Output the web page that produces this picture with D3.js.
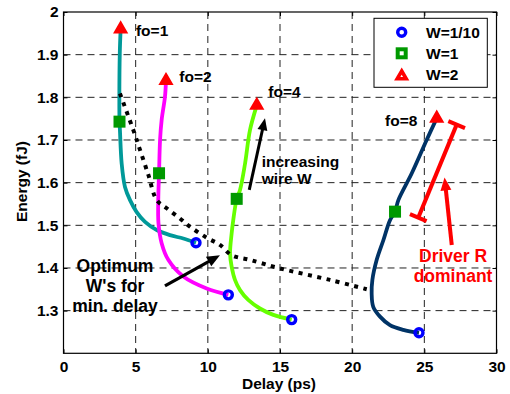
<!DOCTYPE html>
<html>
<head>
<meta charset="utf-8">
<script src="https://cdn.jsdelivr.net/npm/d3@7/dist/d3.min.js"></script>
<style>
  html, body { margin: 0; padding: 0; background: #fff; }
  svg { display: block; font-family: "Liberation Sans", Arial, Helvetica, sans-serif; font-weight: bold; }
</style>
</head>
<body>
<svg id="chart" width="510" height="394"></svg>
<script>
// Energy vs. delay of a driven wire for several fanouts, sweeping wire width W.

// fo = 1
const fo1Delay  = [3.96, 3.90, 3.87, 3.88, 3.91, 4.03, 4.26, 4.61, 5.07, 5.65, 6.46, 7.38, 8.30, 9.18];
const fo1Energy = [1.960, 1.904, 1.803, 1.743, 1.723, 1.645, 1.590, 1.559, 1.531, 1.508, 1.489, 1.477, 1.469, 1.459];
// fo = 2
const fo2Delay  = [7.10, 7.03, 6.80, 6.69, 6.62, 6.57, 6.58, 6.80, 7.26, 8.30, 9.92, 11.42];
const fo2Energy = [1.839, 1.801, 1.747, 1.700, 1.622, 1.567, 1.505, 1.458, 1.419, 1.380, 1.352, 1.337];
// fo = 4
const fo4Delay  = [13.39, 12.92, 12.58, 12.23, 12.00, 11.76, 11.65, 11.54, 11.65, 11.88, 12.23, 12.80, 13.61, 14.54, 15.81];
const fo4Energy = [1.781, 1.723, 1.645, 1.583, 1.562, 1.512, 1.481, 1.434, 1.403, 1.372, 1.348, 1.325, 1.305, 1.290, 1.279];
// fo = 8
const fo8Delay  = [25.86, 25.16, 24.13, 23.20, 22.97, 22.62, 22.16, 21.70, 21.40, 21.35, 21.46, 21.93, 22.62, 23.54, 24.63];
const fo8Energy = [1.751, 1.700, 1.622, 1.559, 1.532, 1.512, 1.465, 1.419, 1.372, 1.341, 1.309, 1.286, 1.266, 1.255, 1.248];

// Locus of minimum-delay wire widths
const optDelay  = [3.91, 4.84, 5.30, 5.88, 6.46, 7.15, 8.07, 8.76, 9.92, 10.84, 11.65, 12.92, 15.00, 18.47, 21.01];
const optEnergy = [1.809, 1.723, 1.677, 1.618, 1.559, 1.540, 1.516, 1.497, 1.471, 1.454, 1.430, 1.419, 1.399, 1.372, 1.350];

// Marked wire widths on each curve (W = 1/10, 1, 2)
const w01Delay  = [9.18, 11.42, 15.81, 24.63];
const w01Energy = [1.459, 1.337, 1.279, 1.248];
const w1Delay   = [3.88, 6.62, 12.00, 22.97];
const w1Energy  = [1.743, 1.622, 1.562, 1.532];
const w2Delay   = [3.96, 7.10, 13.39, 25.86];
const w2Energy  = [1.960, 1.839, 1.781, 1.751];

const fanoutLabels = ["fo=1", "fo=2", "fo=4", "fo=8"];
const legendLabels = ["W=1/10", "W=1", "W=2"];
const xTicks = [0, 5, 10, 15, 20, 25, 30];
const yTicks = [1.3, 1.4, 1.5, 1.6, 1.7, 1.8, 1.9, 2.0];

const curveColors = ["#009999", "#ff00ff", "#66ff00", "#003366"];
const FONT = 15.5;

const svg = d3.select("#chart");
const plotLeft = 63.5, plotRight = 496.5, plotTop = 12, plotBottom = 353.3;

const x = d3.scaleLinear().domain([0, 30]).range([plotLeft, plotRight]);
const y = d3.scaleLinear().domain([1.2, 2.0]).range([plotBottom, plotTop]);

// grid
const grid = svg.append("g").attr("stroke", "#222").attr("stroke-width", 1).attr("stroke-dasharray", "7 5");
grid.selectAll("line.gx").data(xTicks.filter(d => d > 0 && d < 30)).join("line").attr("class", "gx")
  .attr("x1", d => x(d)).attr("x2", d => x(d)).attr("y1", plotTop).attr("y2", plotBottom);
grid.selectAll("line.gy").data(yTicks.filter(d => d < 2)).join("line").attr("class", "gy")
  .attr("x1", plotLeft).attr("x2", plotRight).attr("y1", d => y(d)).attr("y2", d => y(d));

// axes
const xAxis = svg.append("g").attr("transform", `translate(0,${plotBottom})`)
  .call(d3.axisBottom(x).tickValues(xTicks).tickFormat(d3.format("d")).tickSizeInner(-4).tickSizeOuter(0).tickPadding(7.5));
const yAxis = svg.append("g").attr("transform", `translate(${plotLeft},0)`)
  .call(d3.axisLeft(y).tickValues(yTicks).tickFormat(d => d === 2 ? "2" : d.toFixed(1)).tickSizeInner(-4).tickSizeOuter(0).tickPadding(5));
svg.append("g").attr("transform", `translate(0,${plotTop})`)
  .call(d3.axisTop(x).tickValues(xTicks).tickFormat("").tickSizeInner(-4).tickSizeOuter(0));
svg.append("g").attr("transform", `translate(${plotRight},0)`)
  .call(d3.axisRight(y).tickValues(yTicks).tickFormat("").tickSizeInner(-4).tickSizeOuter(0));
svg.selectAll(".domain").remove();
svg.selectAll(".tick line").attr("stroke", "#000");
[xAxis, yAxis].forEach(a => a.selectAll("text")
  .attr("font-size", FONT).attr("font-weight", "bold").attr("fill", "#000")
  .attr("font-family", "'Liberation Sans', Arial, sans-serif"));

svg.append("rect").attr("x", plotLeft).attr("y", plotTop)
  .attr("width", plotRight - plotLeft).attr("height", plotBottom - plotTop)
  .attr("fill", "none").attr("stroke", "#000").attr("stroke-width", 1.2);

// axis titles
svg.append("text").attr("x", 279).attr("y", 389).attr("text-anchor", "middle")
  .attr("font-size", FONT).text("Delay (ps)");
svg.append("text").attr("transform", "translate(27,181.5) rotate(-90)").attr("text-anchor", "middle")
  .attr("font-size", FONT).text("Energy (fJ)");

// curves
const line = d3.line().x(d => x(d[0])).y(d => y(d[1])).curve(d3.curveCatmullRom.alpha(0.5));
const curves = [
  d3.zip(fo1Delay, fo1Energy), d3.zip(fo2Delay, fo2Energy),
  d3.zip(fo4Delay, fo4Energy), d3.zip(fo8Delay, fo8Energy)
];
svg.append("g").selectAll("path").data(curves).join("path")
  .attr("d", line).attr("fill", "none")
  .attr("stroke", (d, i) => curveColors[i]).attr("stroke-width", 3.8)
  .attr("stroke-linejoin", "round");

// minimum-delay locus
svg.append("path").datum(d3.zip(optDelay, optEnergy)).attr("d", line)
  .attr("fill", "none").attr("stroke", "#000").attr("stroke-width", 4)
  .attr("stroke-dasharray", "4 5.5");

// markers
const triPath = s => `M0,${-s}L${s * 0.866},${s * 0.5}L${-s * 0.866},${s * 0.5}Z`;
function circleMark(g, cx, cy) {
  g.append("circle").attr("cx", cx).attr("cy", cy).attr("r", 4)
    .attr("fill", "none").attr("stroke", "#0000ff").attr("stroke-width", 3.4);
}
function squareMark(g, cx, cy, fill) {
  g.append("rect").attr("x", cx - 4).attr("y", cy - 4).attr("width", 8).attr("height", 8)
    .attr("fill", fill).attr("stroke", "#009900").attr("stroke-width", 4);
}
function triMark(g, cx, cy, fill) {
  g.append("path").attr("d", triPath(5.2)).attr("transform", `translate(${cx},${cy})`)
    .attr("fill", fill).attr("stroke", "#ff0000").attr("stroke-width", 3.6).attr("stroke-linejoin", "miter");
}
const marks = svg.append("g");
w01Delay.forEach((d, i) => circleMark(marks, x(d), y(w01Energy[i])));
w1Delay.forEach((d, i) => squareMark(marks, x(d), y(w1Energy[i]), "#009900"));
w2Delay.forEach((d, i) => triMark(marks, x(d), y(w2Energy[i]), "#ff0000"));

// fanout labels
const foLabelPos = [[5.02, 1.944], [8.02, 1.837], [14.19, 1.801], [22.28, 1.733]];
svg.append("g").selectAll("text").data(fanoutLabels).join("text")
  .attr("x", (d, i) => x(foLabelPos[i][0])).attr("y", (d, i) => y(foLabelPos[i][1]))
  .attr("font-size", FONT).text(d => d);

// arrows
function arrow(x1, y1, x2, y2, color, w, headLen, headW) {
  const ax = x(x1), ay = y(y1), bx = x(x2), by = y(y2);
  const dx = bx - ax, dy = by - ay, len = Math.hypot(dx, dy);
  const ux = dx / len, uy = dy / len, px = -uy, py = ux;
  const hx = bx - ux * headLen, hy = by - uy * headLen;
  svg.append("line").attr("x1", ax).attr("y1", ay).attr("x2", hx + ux).attr("y2", hy + uy)
    .attr("stroke", color).attr("stroke-width", w);
  svg.append("path")
    .attr("d", `M${bx},${by}L${hx + px * headW / 2},${hy + py * headW / 2}L${hx - px * headW / 2},${hy - py * headW / 2}Z`)
    .attr("fill", color);
}
arrow(12.87, 1.583, 13.96, 1.751, "#000", 3, 12, 10);
arrow(7.03, 1.358, 10.84, 1.430, "#000", 3.2, 13, 11);
arrow(26.90, 1.454, 26.40, 1.612, "#ff0000", 4, 13, 11);

// range bar for the driver-dominated region
(function () {
  const ax = x(27.24), ay = y(1.736), bx = x(24.58), by = y(1.518);
  const dx = bx - ax, dy = by - ay, len = Math.hypot(dx, dy);
  const px = -dy / len, py = dx / len, c = 9;
  const g = svg.append("g").attr("stroke", "#ff0000").attr("stroke-width", 4);
  g.append("line").attr("x1", ax).attr("y1", ay).attr("x2", bx).attr("y2", by);
  g.append("line").attr("x1", ax - px * c).attr("y1", ay - py * c).attr("x2", ax + px * c).attr("y2", ay + py * c);
  g.append("line").attr("x1", bx - px * c).attr("y1", by - py * c).attr("x2", bx + px * c).attr("y2", by + py * c);
})();

// annotation text
const noteSize = 17.5;
svg.append("text").attr("x", x(13.73)).attr("y", y(1.636)).attr("font-size", FONT).text("increasing");
svg.append("text").attr("x", x(13.73)).attr("y", y(1.598)).attr("font-size", FONT).text("wire W");
[["Optimum", 1.391], ["W's for", 1.344], ["min. delay", 1.297]].forEach(([t, e]) =>
  svg.append("text").attr("x", x(3.57)).attr("y", y(e)).attr("text-anchor", "middle")
    .attr("font-size", noteSize).text(t));
[["Driver R", 1.413], ["dominant", 1.366]].forEach(([t, e]) =>
  svg.append("text").attr("x", x(26.99)).attr("y", y(e)).attr("text-anchor", "middle")
    .attr("font-size", noteSize).attr("fill", "#ff0000").text(t));

// legend
const lg = svg.append("g");
lg.append("rect").attr("x", 374).attr("y", 18.3).attr("width", 113.3).attr("height", 69)
  .attr("fill", "#fff").attr("stroke", "#000").attr("stroke-width", 1);
const legendY = [32.3, 53.3, 74];
circleMark(lg, 401.7, legendY[0]);
squareMark(lg, 401.7, legendY[1], "#fff");
triMark(lg, 401.7, legendY[2] + 2.2, "#fff");
lg.selectAll("text").data(legendLabels).join("text")
  .attr("x", 426).attr("y", (d, i) => legendY[i] + 5.8)
  .attr("font-size", FONT).text(d => d);
</script>
</body>
</html>
